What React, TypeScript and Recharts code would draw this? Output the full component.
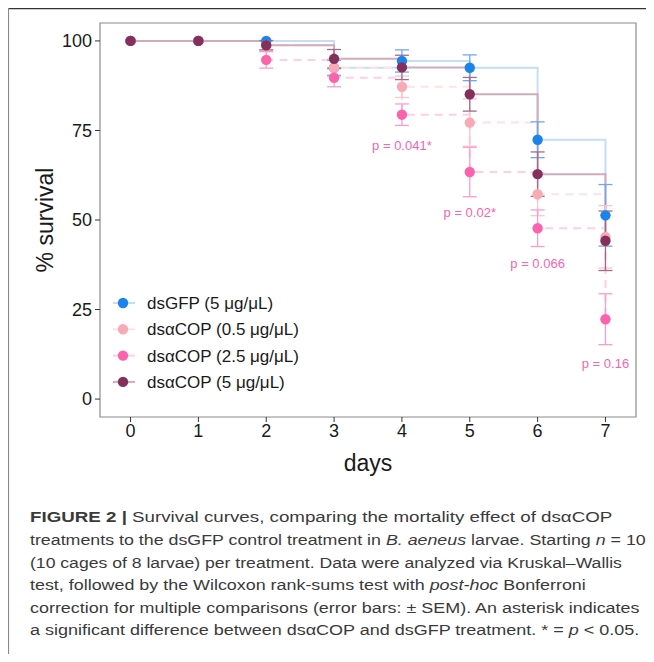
import React, { useLayoutEffect, useRef, useState } from 'react';
import { ComposedChart, Line, XAxis, YAxis, ErrorBar, Scatter, ReferenceArea, Legend } from 'recharts';

// ---- data ----
const days = [0, 1, 2, 3, 4, 5, 6, 7];
const gfpMean = [100, 100, 100, 92.5, 94.4, 92.5, 72.4, 51.3];
const gfpSem = [0, 0, 0, 2.1, 3.1, 3.6, 5, 8.6];
const cop05Mean = [100, 100, 98.8, 92.5, 87.2, 77.2, 57.2, 45.3];
const cop05Sem = [0, 0, 1.3, 2.5, 3, 6.6, 6, 8.7];
const cop25Mean = [100, 100, 94.7, 89.7, 79.4, 63.4, 47.7, 22.3];
const cop25Sem = [0, 0, 2.3, 2.5, 3, 6.9, 5.1, 7.1];
const cop5Mean = [100, 100, 98.8, 95, 92.6, 85.1, 62.8, 44.2];
const cop5Sem = [0, 0, 1.3, 2.6, 3.4, 4.7, 6.2, 8.3];

const seriesNames = ['dsGFP (5 μg/μL)', 'dsαCOP (0.5 μg/μL)', 'dsαCOP (2.5 μg/μL)', 'dsαCOP (5 μg/μL)'];

const pDays = [4, 5, 6, 7];
const pYs = [70.7, 52, 38, 10];
const pTexts = ['p = 0.041*', 'p = 0.02*', 'p = 0.066', 'p = 0.16'];

const xTicks = [0, 1, 2, 3, 4, 5, 6, 7];
const yTicks = [0, 25, 50, 75, 100];

// ---- styles ----
const series = [
  { key: 'gfp', name: seriesNames[0], point: '#1b84ea', line: '#c7ddf7', err: '#6ea8ee', dash: undefined },
  { key: 'c05', name: seriesNames[1], point: '#f9abb5', line: '#fde2e6', err: '#fbc5cc', dash: '8 6' },
  { key: 'c25', name: seriesNames[2], point: '#fb63ad', line: '#fdd0e4', err: '#fc9ccb', dash: '8 6' },
  { key: 'c5', name: seriesNames[3], point: '#84305d', line: '#d0abbc', err: '#a46b89', dash: undefined },
];

const rows = days.map((d, i) => ({
  day: d,
  gfp: gfpMean[i], gfpErr: gfpSem[i],
  c05: cop05Mean[i], c05Err: cop05Sem[i],
  c25: cop25Mean[i], c25Err: cop25Sem[i],
  c5: cop5Mean[i], c5Err: cop5Sem[i],
}));

const pData = pDays.map((d, i) => ({ day: d, y: pYs[i], label: pTexts[i] }));

const FONT = '"Liberation Sans", Arial, Helvetica, sans-serif';

const renderLegend = () => (
  <svg width={260} height={110} style={{ display: 'block' }}>
    {series.map((s, i) => {
      const cy = 15 + i * 26.3;
      return (
        <g key={s.key}>
          <line x1={13} x2={35} y1={cy} y2={cy} stroke={s.line} strokeWidth={2} />
          <circle cx={23} cy={cy} r={5.2} fill={s.point} />
          <text x={47} y={cy} dy="0.35em" fontSize={17} fill="#1a1a1a" fontFamily={FONT}>{s.name}</text>
        </g>
      );
    })}
  </svg>
);

const captionLines: { y: number; len: number; parts: { t: string; b?: boolean; i?: boolean }[] }[] = [
  { y: 522, len: 583, parts: [{ t: 'FIGURE 2 | ', b: true }, { t: 'Survival curves, comparing the mortality effect of dsαCOP' }] },
  { y: 545, len: 616, parts: [{ t: 'treatments to the dsGFP control treatment in ' }, { t: 'B. aeneus', i: true }, { t: ' larvae. Starting ' }, { t: 'n', i: true }, { t: ' = 10' }] },
  { y: 567.5, len: 592, parts: [{ t: '(10 cages of 8 larvae) per treatment. Data were analyzed via Kruskal–Wallis' }] },
  { y: 590, len: 556, parts: [{ t: 'test, followed by the Wilcoxon rank-sums test with ' }, { t: 'post-hoc', i: true }, { t: ' Bonferroni' }] },
  { y: 612.5, len: 610, parts: [{ t: 'correction for multiple comparisons (error bars: ± SEM). An asterisk indicates' }] },
  { y: 635, len: 610, parts: [{ t: 'a significant difference between dsαCOP and dsGFP treatment. * = ' }, { t: 'p', i: true }, { t: ' < 0.05.' }] },
];

const ptDot = (color: string) => (props: any) => {
  const { cx, cy } = props;
  if (cx == null || cy == null) return <g />;
  return <circle cx={cx} cy={cy} r={5.2} fill={color} />;
};

function Caption() {
  const refs = useRef<(SVGTextElement | null)[]>([]);
  const [scales, setScales] = useState<number[]>(captionLines.map(() => 1));
  useLayoutEffect(() => {
    const s = captionLines.map((ln, i) => {
      const el = refs.current[i];
      if (!el) return 1;
      const w = el.getComputedTextLength();
      return w > 0 ? ln.len / w : 1;
    });
    setScales(s);
  }, []);
  return (
    <>
      {captionLines.map((ln, i) => (
        <g key={i} transform={`translate(30, ${ln.y}) scale(${scales[i]}, 1)`}>
          <text ref={(el) => { refs.current[i] = el; }} x={0} y={0} fontSize={15.5} fill="#3a3a3a" fontFamily={FONT}>
            {ln.parts.map((p, j) => (
              <tspan key={j} fontWeight={p.b ? 'bold' : 'normal'} fontStyle={p.i ? 'italic' : 'normal'}>{p.t}</tspan>
            ))}
          </text>
        </g>
      ))}
    </>
  );
}

export default function App() {
  return (
    <div style={{ position: 'relative', margin: -8, width: 654, height: 662, overflow: 'hidden', fontFamily: FONT, background: '#fff' }}>
      <svg width={654} height={662} style={{ position: 'absolute', left: 0, top: 0 }}>
        <line x1={8} x2={654} y1={8.5} y2={8.5} stroke="#333" strokeWidth={1.6} />
        <line x1={8.5} x2={8.5} y1={8} y2={662} stroke="#8a8a8a" strokeWidth={1.2} />
        <Caption />
      </svg>
      <div style={{ position: 'absolute', left: 8, top: 8 }}>
        <ComposedChart width={646} height={470} data={rows}
          margin={{ top: 15, right: 18, bottom: 0, left: 0 }} style={{ fontFamily: FONT }}>
          <XAxis dataKey="day" type="number" domain={[-0.45, 7.45]} ticks={xTicks} allowDataOverflow
            axisLine={false} tickLine={{ stroke: '#333' }} tickSize={5} height={61}
            tick={{ fill: '#1a1a1a', fontSize: 18 }}
            label={{
              content: () => (
                <text x={360} y={455} dy="0.35em" textAnchor="middle" fontSize={23} fill="#1a1a1a" fontFamily={FONT}>days</text>
              ),
            }} />
          <YAxis type="number" domain={[-5, 105]} ticks={yTicks} allowDataOverflow width={92}
            axisLine={false} tickLine={{ stroke: '#333' }} tickSize={5} tickMargin={3}
            tick={{ fill: '#1a1a1a', fontSize: 18 }}
            label={{
              content: () => (
                <text x={37} y={212} dy="0.35em" textAnchor="middle" fontSize={23} fill="#1a1a1a" fontFamily={FONT}
                  transform="rotate(-90, 37, 212)">% survival</text>
              ),
            }} />
          <ReferenceArea x1={-0.45} x2={7.45} y1={-5} y2={105} fill="none" stroke="#8c8c8c" strokeWidth={1.2} ifOverflow="visible" />
          {series.map((s) => (
            <Line key={s.key + '-line'} dataKey={s.key} type="stepAfter" stroke={s.line} strokeWidth={2}
              strokeDasharray={s.dash} dot={false} activeDot={false} isAnimationActive={false} legendType="none" />
          ))}
          {series.map((s) => (
            <Line key={s.key + '-pts'} dataKey={s.key} name={s.name} stroke="none" dot={ptDot(s.point)}
              activeDot={false} isAnimationActive={false}>
              <ErrorBar dataKey={s.key + 'Err'} direction="y" width={7} stroke={s.err} strokeWidth={1.3} isAnimationActive={false} />
            </Line>
          ))}
          <Scatter data={pData} dataKey="y" isAnimationActive={false} legendType="none"
            shape={(p: any) => (
              <text x={p.cx} y={p.cy} dy="0.35em" textAnchor="middle" fontSize={13} fill="#f565ad" fontFamily={FONT}>
                {p.payload && p.payload.label}
              </text>
            )} />
          <Legend layout="horizontal" verticalAlign="middle" align="center" content={renderLegend}
            wrapperStyle={{ left: 92, top: 280, width: 260, height: 110 }} />
        </ComposedChart>
      </div>
    </div>
  );
}
